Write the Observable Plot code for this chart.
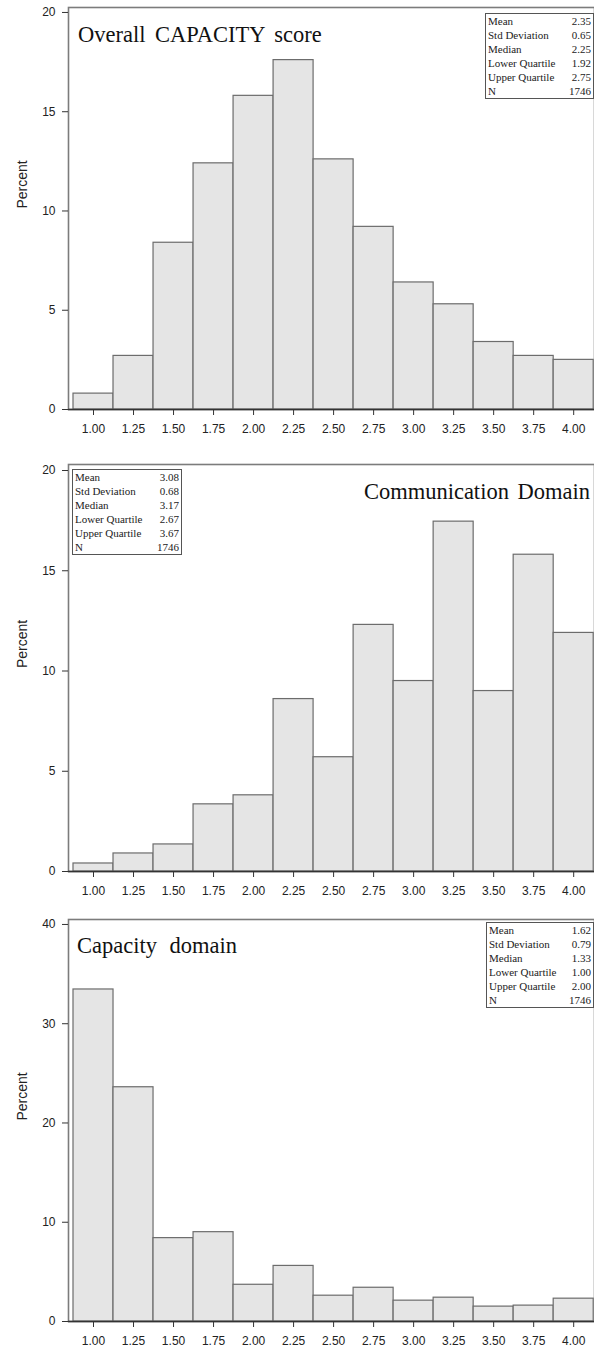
<!DOCTYPE html>
<html><head><meta charset="utf-8">
<script src="https://cdn.jsdelivr.net/npm/d3@7"></script>
<script src="https://cdn.jsdelivr.net/npm/@observablehq/plot@0.6"></script>
<style>
body{margin:0;background:#fff;}
#wrap{position:relative;width:594px;height:1353px;overflow:hidden;background:#fff;}
.panel{position:absolute;left:0;}
.panel svg{display:block;}
.title{position:absolute;font-family:"Liberation Serif",serif;font-size:22.5px;color:#111;white-space:pre;line-height:22px;}
.stats{position:absolute;border:1px solid #555;background:#fff;font-family:"Liberation Serif",serif;font-size:11px;color:#222;padding:0 2px;box-sizing:border-box;}
.stats .row{display:flex;justify-content:space-between;height:14px;line-height:14px;}
</style></head>
<body>
<div id="wrap"></div>
<script>
// ---- data ----
const binCenters = [1.00, 1.25, 1.50, 1.75, 2.00, 2.25, 2.50, 2.75, 3.00, 3.25, 3.50, 3.75, 4.00];
const xTicks = [1.00, 1.25, 1.50, 1.75, 2.00, 2.25, 2.50, 2.75, 3.00, 3.25, 3.50, 3.75, 4.00];
const overallPct    = [0.8, 2.7, 8.4, 12.4, 15.8, 17.6, 12.6, 9.2, 6.4, 5.3, 3.4, 2.7, 2.5];
const commPct       = [0.4, 0.9, 1.35, 3.35, 3.8, 8.6, 5.7, 12.3, 9.5, 17.45, 9.0, 15.8, 11.9];
const capacityPct   = [33.45, 23.6, 8.4, 9.0, 3.7, 5.6, 2.6, 3.4, 2.1, 2.4, 1.5, 1.6, 2.3];
const yTicks20 = [0, 5, 10, 15, 20];
const yTicks40 = [0, 10, 20, 30, 40];
const statLabels    = ["Mean", "Std Deviation", "Median", "Lower Quartile", "Upper Quartile", "N"];
const overallStats  = ["2.35", "0.65", "2.25", "1.92", "2.75", "1746"];
const commStats     = ["3.08", "0.68", "3.17", "2.67", "3.67", "1746"];
const capacityStats = ["1.62", "0.79", "1.33", "1.00", "2.00", "1746"];
const titles = ["Overall CAPACITY score", "Communication Domain", "Capacity domain"];
const binWidth = 0.25;

const wrap = document.getElementById("wrap");

function panel(values, yMax, yTicks, top, height, marginTop, marginBottom) {
  const table = binCenters.map((c, i) => ({x1: c - binWidth / 2, x2: c + binWidth / 2, p: values[i]}));
  const chart = Plot.plot({
    width: 594, height, marginLeft: 68, marginRight: 0, marginTop, marginBottom,
    style: {fontFamily: "'Liberation Sans', Arial, sans-serif", fontSize: "12px", color: "#222", background: "#fff"},
    x: {domain: [0.84375, 4.13]},
    y: {domain: [0, yMax]},
    marks: [
      Plot.frame({stroke: "#7c7c7c", strokeWidth: 1.6}),
      Plot.rectY(table, {x1: "x1", x2: "x2", y: "p", fill: "#e5e5e5", stroke: "#6c6c6c", strokeWidth: 1.2}),
      Plot.ruleY([0], {stroke: "#333", strokeWidth: 1.6}),
      Plot.axisX(xTicks, {tickSize: 6, tickPadding: 9, tickFormat: d3.format(".2f"), stroke: "#333", label: null}),
      Plot.axisY(yTicks, {tickSize: 6, tickPadding: 7, stroke: "#333", label: null}),
      Plot.text(["Percent"], {frameAnchor: "left", rotate: -90, dx: -46, fontSize: 14, fill: "#222"})
    ]
  });
  const div = document.createElement("div");
  div.className = "panel";
  div.style.top = top + "px";
  div.appendChild(chart);
  wrap.appendChild(div);
}

function title(text, css) {
  const d = document.createElement("div");
  d.className = "title";
  d.textContent = text;
  Object.assign(d.style, css);
  wrap.appendChild(d);
}

function stats(vals, left, top, width) {
  const d = document.createElement("div");
  d.className = "stats";
  d.style.left = left + "px"; d.style.top = top + "px"; d.style.width = width + "px";
  statLabels.forEach((l, i) => {
    const r = document.createElement("div");
    r.className = "row";
    const a = document.createElement("span"); a.textContent = l;
    const b = document.createElement("span"); b.textContent = vals[i];
    r.appendChild(a); r.appendChild(b);
    d.appendChild(r);
  });
  wrap.appendChild(d);
}

panel(overallPct, 20.25, yTicks20, 0, 455, 7, 46);
panel(commPct, 20.3, yTicks20, 455, 455, 9, 39);
panel(capacityPct, 40.5, yTicks40, 910, 443, 9, 32);

title(titles[0], {left: "78px", top: "24px", wordSpacing: "4px"});
title(titles[1], {right: "4px", top: "481px", wordSpacing: "3px"});
title(titles[2], {left: "77px", top: "935px", wordSpacing: "7px"});

stats(overallStats, 485, 13, 109);
stats(commStats, 72, 469, 110);
stats(capacityStats, 486, 922, 108);
</script>
</body></html>
